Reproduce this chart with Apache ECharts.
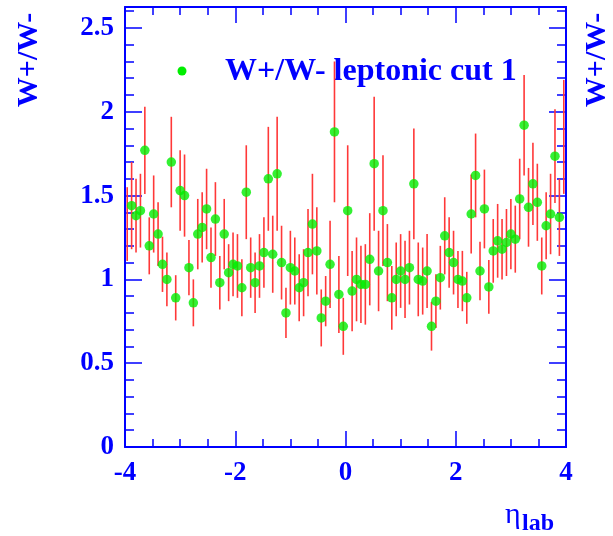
<!DOCTYPE html>
<html lang="en">
<head>
<meta charset="UTF-8">
<title>W+/W- leptonic cut 1</title>
<script src="https://cdn.jsdelivr.net/npm/echarts@6/dist/echarts.min.js"></script>
<style>
    html, body { margin: 0; padding: 0; background: #fff; }
    #main { width: 613px; height: 536px; }
</style>
</head>
<body>
<div id="main"></div>
<script>
    // eta_lab bin centres (100 bins of 0.08 from -4 to 4)
    var etaBins = [
        -3.96, -3.88, -3.80, -3.72, -3.64, -3.56, -3.48, -3.40, -3.32, -3.24,
        -3.16, -3.08, -3.00, -2.92, -2.84, -2.76, -2.68, -2.60, -2.52, -2.44,
        -2.36, -2.28, -2.20, -2.12, -2.04, -1.96, -1.88, -1.80, -1.72, -1.64,
        -1.56, -1.48, -1.40, -1.32, -1.24, -1.16, -1.08, -1.00, -0.92, -0.84,
        -0.76, -0.68, -0.60, -0.52, -0.44, -0.36, -0.28, -0.20, -0.12, -0.04,
        0.04, 0.12, 0.20, 0.28, 0.36, 0.44, 0.52, 0.60, 0.68, 0.76,
        0.84, 0.92, 1.00, 1.08, 1.16, 1.24, 1.32, 1.40, 1.48, 1.56,
        1.64, 1.72, 1.80, 1.88, 1.96, 2.04, 2.12, 2.20, 2.28, 2.36,
        2.44, 2.52, 2.60, 2.68, 2.76, 2.84, 2.92, 3.00, 3.08, 3.16,
        3.24, 3.32, 3.40, 3.48, 3.56, 3.64, 3.72, 3.80, 3.88, 3.96
    ];
    // W+/W- ratio
    var ratio = [
        1.33, 1.44, 1.38, 1.41, 1.77, 1.20, 1.39, 1.27, 1.09, 1.00,
        1.70, 0.89, 1.53, 1.50, 1.07, 0.86, 1.27, 1.31, 1.42, 1.13,
        1.36, 0.98, 1.27, 1.04, 1.09, 1.08, 0.95, 1.52, 1.07, 0.98,
        1.08, 1.16, 1.60, 1.15, 1.63, 1.10, 0.80, 1.07, 1.05, 0.95,
        0.98, 1.16, 1.33, 1.17, 0.77, 0.87, 1.09, 1.88, 0.91, 0.72,
        1.41, 0.93, 1.00, 0.97, 0.97, 1.12, 1.69, 1.05, 1.41, 1.10,
        0.89, 1.00, 1.05, 1.00, 1.07, 1.57, 1.00, 0.99, 1.05, 0.72,
        0.87, 1.01, 1.26, 1.16, 1.10, 1.00, 0.99, 0.89, 1.39, 1.62,
        1.05, 1.42, 0.955, 1.17, 1.23, 1.18, 1.22, 1.27, 1.24, 1.48,
        1.92, 1.43, 1.57, 1.46, 1.08, 1.32, 1.39, 1.735, 1.37, 1.85
    ];
    // symmetric error on the ratio
    var ratioErr = [
        0.22, 0.26, 0.22, 0.22, 0.26, 0.17, 0.23, 0.19, 0.165, 0.16,
        0.27, 0.135, 0.24, 0.245, 0.165, 0.14, 0.21, 0.21, 0.24, 0.18,
        0.22, 0.16, 0.21, 0.17, 0.19, 0.19, 0.17, 0.28, 0.18, 0.18,
        0.19, 0.21, 0.31, 0.23, 0.34, 0.22, 0.15, 0.22, 0.20, 0.20,
        0.20, 0.26, 0.30, 0.26, 0.17, 0.15, 0.26, 0.42, 0.23, 0.17,
        0.39, 0.24, 0.25, 0.23, 0.24, 0.275, 0.40, 0.24, 0.33, 0.23,
        0.19, 0.22, 0.22, 0.23, 0.22, 0.33, 0.22, 0.20, 0.22, 0.145,
        0.16, 0.19, 0.23, 0.21, 0.19, 0.17, 0.18, 0.155, 0.235, 0.25,
        0.175, 0.235, 0.16, 0.19, 0.22, 0.18, 0.20, 0.21, 0.20, 0.24,
        0.30, 0.235, 0.245, 0.23, 0.17, 0.20, 0.24, 0.28, 0.23, 0.34
    ];
    // edge bins drawn without a marker in the original
    var noMarker = [0, 99];
    var legendLabel = 'W+/W- leptonic cut 1';
    var yTitle = 'W+/W-';

    var blue = '#0000ff';
    var serif = '"Liberation Serif", "DejaVu Serif", serif';

    function yAxisDef(pos, step, tickLen, withLabels) {
        return {
            type: 'value', position: pos, min: 0, max: 2.625, interval: step,
            axisLine: { show: withLabels || pos === 'right', onZero: false, lineStyle: { color: blue, width: 2 } },
            axisTick: { inside: true, length: tickLen, lineStyle: { color: blue, width: 1.5 } },
            axisLabel: {
                show: withLabels, showMaxLabel: false, margin: 11,
                color: blue, fontFamily: serif, fontWeight: 'bold', fontSize: 27
            },
            splitLine: { show: false }
        };
    }

    function xAxisDef(pos, withLabels) {
        return {
            type: 'value', position: pos, min: -4, max: 4, interval: 2,
            axisLine: { onZero: false, lineStyle: { color: blue, width: 2 } },
            axisTick: { inside: true, length: 16, lineStyle: { color: blue, width: 1.5 } },
            minorTick: { show: true, splitNumber: 4, length: 8, lineStyle: { color: blue, width: 1.5 } },
            axisLabel: {
                show: withLabels, margin: 13,
                color: blue, fontFamily: serif, fontWeight: 'bold', fontSize: 27
            },
            splitLine: { show: false }
        };
    }

    var barData = etaBins.map(function (x, i) {
        return [x, ratio[i] - ratioErr[i], ratio[i] + ratioErr[i]];
    });
    var pointData = etaBins.map(function (x, i) {
        var item = { value: [x, ratio[i]] };
        if (noMarker.indexOf(i) >= 0) item.symbolSize = 0;
        return item;
    });

    var chart = echarts.init(document.getElementById('main'), null, { renderer: 'canvas' });
    chart.setOption({
        animation: false,
        backgroundColor: '#fff',
        grid: { left: 125, right: 47, top: 7, bottom: 89 },
        xAxis: [xAxisDef('bottom', true), xAxisDef('top', false)],
        yAxis: [
            yAxisDef('left', 0.5, 17, true),
            yAxisDef('left', 0.1, 9, false),
            yAxisDef('right', 0.5, 17, false),
            yAxisDef('right', 0.1, 9, false)
        ],
        series: [
            {
                type: 'custom',
                data: barData,
                renderItem: function (params, api) {
                    var lo = api.coord([api.value(0), api.value(1)]);
                    var hi = api.coord([api.value(0), api.value(2)]);
                    return {
                        type: 'line',
                        shape: { x1: lo[0], y1: lo[1], x2: hi[0], y2: hi[1] },
                        style: { stroke: '#ff3838', lineWidth: 1.6 }
                    };
                },
                z: 2
            },
            {
                type: 'scatter',
                name: legendLabel,
                data: pointData,
                symbol: 'circle',
                symbolSize: 9.5,
                itemStyle: { color: '#00ee00' },
                z: 3
            }
        ],
        graphic: [
            { type: 'circle', shape: { cx: 182, cy: 71, r: 4.5 }, style: { fill: '#00ee00' } },
            {
                type: 'text', x: 225, y: 72,
                style: { text: legendLabel, fill: blue, font: 'bold 32px ' + serif, textVerticalAlign: 'middle' }
            },
            {
                type: 'text', x: 29, y: 60, rotation: Math.PI / 2,
                style: { text: yTitle, fill: blue, font: 'bold 30px ' + serif, textAlign: 'center', textVerticalAlign: 'middle' }
            },
            {
                type: 'text', x: 597, y: 60, rotation: Math.PI / 2,
                style: { text: yTitle, fill: blue, font: 'bold 30px ' + serif, textAlign: 'center', textVerticalAlign: 'middle' }
            },
            {
                type: 'text', x: 505, y: 515,
                style: { text: 'η', fill: blue, font: '30px ' + serif, textVerticalAlign: 'middle' }
            },
            {
                type: 'text', x: 522, y: 524,
                style: { text: 'lab', fill: blue, font: 'bold 24px ' + serif, textVerticalAlign: 'middle' }
            }
        ]
    });
</script>
</body>
</html>
